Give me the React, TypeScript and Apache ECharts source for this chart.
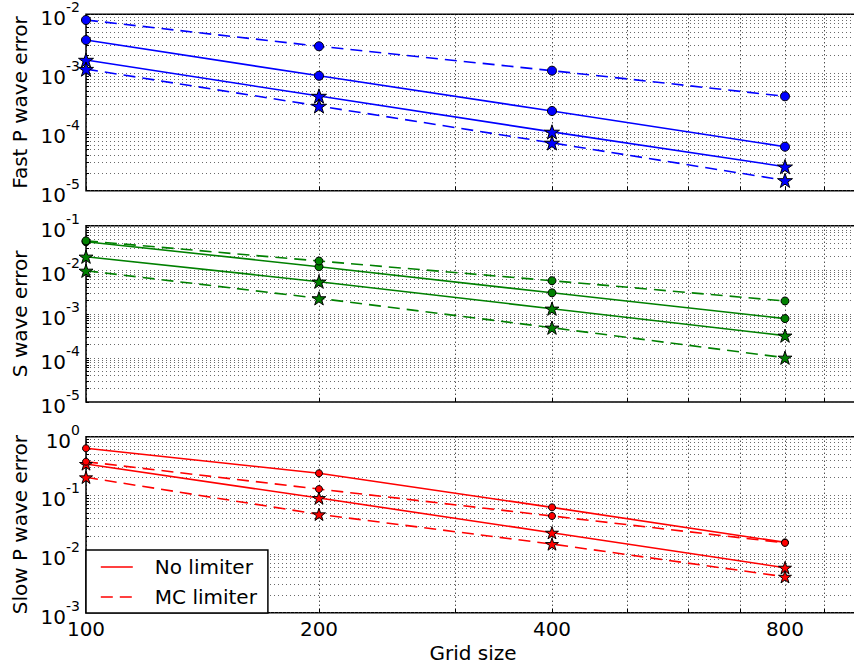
import { useEffect, useRef } from 'react';
import * as echarts from 'echarts';

// ---------- data ----------
const GRID_SIZES = [100, 200, 400, 800];

// Fast P wave error
const fastNoLimCircle = [3.65e-3, 9.0e-4, 2.27e-4, 5.6e-5];
const fastNoLimStar = [1.67e-3, 4.08e-4, 1.0e-4, 2.56e-5];
const fastMcCircle = [8.0e-3, 2.86e-3, 1.1e-3, 4.03e-4];
const fastMcStar = [1.17e-3, 2.76e-4, 6.5e-5, 1.5e-5];

// S wave error
const sNoLimCircle = [0.0434, 0.01175, 3.0e-3, 7.8e-4];
const sNoLimStar = [0.0198, 5.37e-3, 1.31e-3, 3.2e-4];
const sMcCircle = [0.0454, 0.0158, 5.65e-3, 1.96e-3];
const sMcStar = [9.5e-3, 2.25e-3, 4.85e-4, 1.01e-4];

// Slow P wave error
const slowNoLimCircle = [0.634, 0.238, 0.0625, 0.0158];
const slowNoLimStar = [0.343, 0.09, 0.0231, 5.85e-3];
const slowMcCircle = [0.375, 0.128, 0.0445, 0.0155];
const slowMcStar = [0.203, 0.0475, 0.0148, 4.1e-3];

// ---------- ticks ----------
const X_LABEL_TICKS = [100, 200, 400, 800];
const X_GRID_TICKS = [100, 200, 300, 400, 500, 600, 700, 800, 900, 1000];
const FAST_Y_LABELS = [1e-5, 1e-4, 1e-3, 1e-2];
const S_Y_LABELS = [1e-5, 1e-4, 1e-3, 1e-2, 1e-1];
const SLOW_Y_LABELS = [1e-3, 1e-2, 1e-1, 1];
const LEGEND_NAMES = ['No limiter', 'MC limiter'];

const FONT = 'DejaVu Sans';
const STAR =
  'path://M0,-100L-22.45,-30.9L-95.11,-30.9L-36.33,11.8L-58.78,80.9L0,38.2L58.78,80.9L36.33,11.8L95.11,-30.9L22.45,-30.9Z';

function minorGrid(labels: number[]): number[] {
  const out: number[] = [];
  for (let i = 0; i < labels.length - 1; i++) {
    for (let k = 1; k <= 9; k++) out.push(Number((k * labels[i]).toPrecision(6)));
  }
  out.push(labels[labels.length - 1]);
  return out;
}

const PANELS = [
  {
    name: 'Fast P wave error',
    color: '#0000ff',
    top: 14.3,
    height: 176.4,
    labels: FAST_Y_LABELS,
    circleSize: 9,
    starSize: 15,
    lines: [
      { data: fastNoLimCircle, dashed: false, star: false },
      { data: fastNoLimStar, dashed: false, star: true },
      { data: fastMcCircle, dashed: true, star: false },
      { data: fastMcStar, dashed: true, star: true },
    ],
  },
  {
    name: 'S wave error',
    color: '#008000',
    top: 225.7,
    height: 176.3,
    labels: S_Y_LABELS,
    circleSize: 8,
    starSize: 14,
    lines: [
      { data: sNoLimCircle, dashed: false, star: false },
      { data: sNoLimStar, dashed: false, star: true },
      { data: sMcCircle, dashed: true, star: false },
      { data: sMcStar, dashed: true, star: true },
    ],
  },
  {
    name: 'Slow P wave error',
    color: '#ff0000',
    top: 436.7,
    height: 176,
    labels: SLOW_Y_LABELS,
    circleSize: 7,
    starSize: 13,
    lines: [
      { data: slowNoLimCircle, dashed: false, star: false },
      { data: slowNoLimStar, dashed: false, star: true },
      { data: slowMcCircle, dashed: true, star: false },
      { data: slowMcStar, dashed: true, star: true },
    ],
  },
];

const DASH = [12, 7];

export default function App() {
  const ref = useRef<HTMLDivElement>(null);

  useEffect(() => {
    if (!ref.current) return;
    const chart = echarts.init(ref.current, null, { renderer: 'svg' });

    const grids = PANELS.map((p) => ({
      left: 86,
      top: p.top,
      width: 774,
      height: p.height,
      show: true,
      borderColor: '#000',
      borderWidth: 1.5,
      backgroundColor: 'transparent',
      containLabel: false,
      outerBoundsMode: 'none',
    }));

    const xAxes = PANELS.map((p, i) => ({
      type: 'log',
      logBase: 10,
      gridIndex: i,
      min: 100,
      max: 1000,
      axisLine: { show: false },
      axisTick: {
        show: true,
        inside: true,
        length: 4,
        customValues: X_GRID_TICKS,
        lineStyle: { color: '#000', width: 1 },
      },
      axisLabel: {
        show: i === 2,
        customValues: X_LABEL_TICKS,
        fontSize: 20,
        fontFamily: FONT,
        color: '#000',
        margin: 6,
        formatter: (v: number) => String(Math.round(v)),
      },
      splitLine: {
        show: true,
        lineStyle: { color: '#000', width: 1, type: [1, 3] },
      },
      name: i === 2 ? 'Grid size' : '',
      nameLocation: 'middle',
      nameGap: 30,
      nameTextStyle: { fontSize: 20, fontFamily: FONT, color: '#000' },
    }));

    const yAxes = PANELS.map((p, i) => ({
      type: 'log',
      logBase: 10,
      gridIndex: i,
      min: p.labels[0],
      max: p.labels[p.labels.length - 1],
      axisLine: { show: false },
      axisTick: {
        show: true,
        inside: true,
        length: 3,
        customValues: minorGrid(p.labels),
        lineStyle: { color: '#000', width: 1 },
      },
      axisLabel: {
        customValues: p.labels,
        margin: 6,
        formatter: (v: number) => {
          const e = Math.round(Math.log10(v));
          return '{b|10}{s|' + (e < 0 ? '-' + Math.abs(e) : String(e)) + '}';
        },
        rich: {
          b: { fontSize: 20, fontFamily: FONT, color: '#000', verticalAlign: 'bottom' },
          s: {
            fontSize: 14,
            fontFamily: FONT,
            color: '#000',
            verticalAlign: 'top',
            padding: [0, 0, 14, 0],
          },
        },
      },
      splitLine: {
        show: true,
        lineStyle: { color: '#444', width: 0.8, type: [1, 3] },
      },
      name: p.name,
      nameLocation: 'middle',
      nameGap: 47,
      nameRotate: 90,
      nameTextStyle: { fontSize: 20, fontFamily: FONT, color: '#000' },
    }));

    const series: any[] = [];
    PANELS.forEach((p, i) => {
      p.lines.forEach((l, j) => {
        series.push({
          type: 'line',
          name: p.name + ' ' + j,
          xAxisIndex: i,
          yAxisIndex: i,
          data: GRID_SIZES.map((x, k) => [x, l.data[k]]),
          symbol: l.star ? STAR : 'circle',
          symbolSize: l.star ? p.starSize : p.circleSize,
          symbolKeepAspect: true,
          showSymbol: true,
          showAllSymbol: true,
          silent: true,
          lineStyle: { color: p.color, width: 1.6, type: l.dashed ? DASH : 'solid' },
          itemStyle: { color: p.color, borderColor: '#000', borderWidth: 1 },
          z: 3,
        });
      });
    });
    LEGEND_NAMES.forEach((n, j) => {
      series.push({
        type: 'line',
        name: n,
        xAxisIndex: 2,
        yAxisIndex: 2,
        data: [],
        symbol: 'none',
        lineStyle: { color: '#ff0000', width: 1.6, type: j === 1 ? DASH : 'solid' },
        itemStyle: { color: '#ff0000' },
      });
    });

    chart.setOption({
      animation: false,
      textStyle: { fontFamily: FONT, color: '#000' },
      grid: grids,
      xAxis: xAxes,
      yAxis: yAxes,
      legend: {
        data: LEGEND_NAMES.map((n, j) => ({
          name: n,
          itemStyle: { opacity: 0 },
          lineStyle: { color: '#ff0000', width: 1.6, type: j === 1 ? DASH : 'solid', opacity: 1 },
        })),
        orient: 'vertical',
        left: 86,
        top: 550,
        padding: [7, 11, 6, 14],
        itemGap: 10,
        itemWidth: 32,
        itemHeight: 14,
        backgroundColor: '#fff',
        borderColor: '#000',
        borderWidth: 1.5,
        borderRadius: 0,
        selectedMode: false,
        itemStyle: { opacity: 0 },
        textStyle: {
          fontSize: 20,
          fontFamily: FONT,
          color: '#000',
          lineHeight: 20,
          padding: [0, 0, 0, 17],
        },
        z: 10,
      },
      series,
    });

    return () => chart.dispose();
  }, []);

  return (
    <div
      ref={ref}
      style={{ position: 'absolute', left: 0, top: 0, width: 854, height: 670, overflow: 'hidden', background: '#fff' }}
    />
  );
}
